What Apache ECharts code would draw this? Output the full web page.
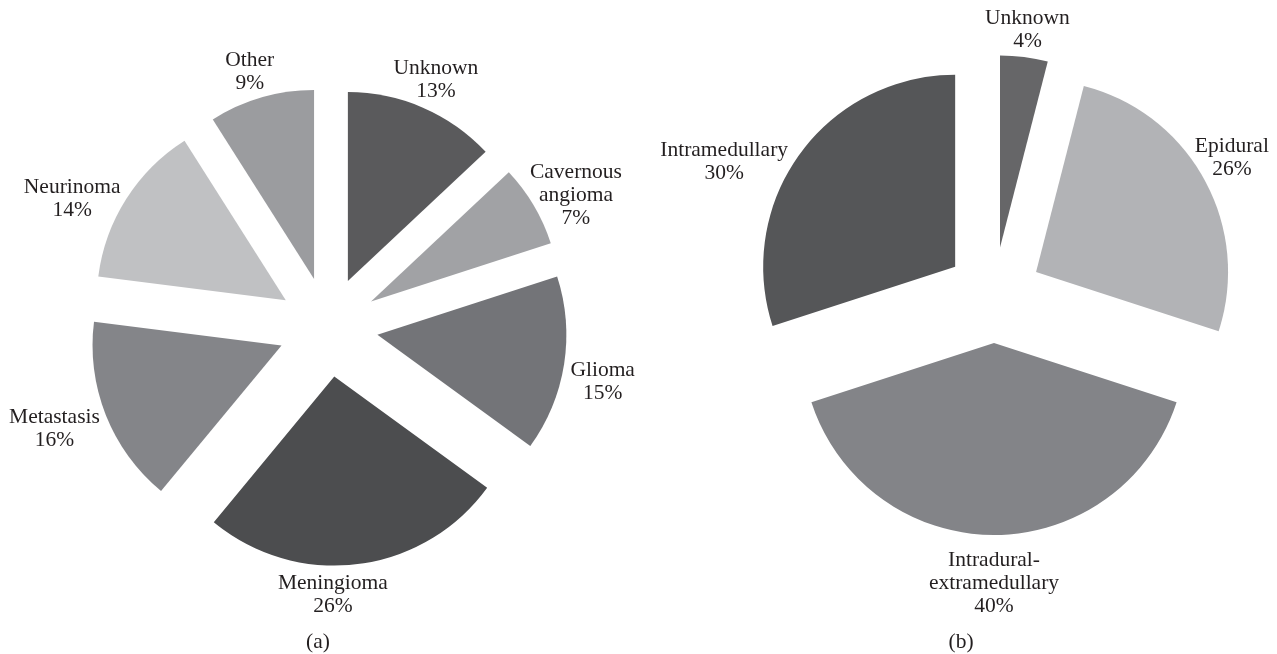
<!DOCTYPE html>
<html>
<head>
<meta charset="utf-8">
<script src="https://cdn.jsdelivr.net/npm/echarts@6/dist/echarts.min.js"></script>
<style>
html,body{margin:0;padding:0;background:#ffffff;}
#chart{width:1277px;height:654px;}
</style>
</head>
<body>
<div id="chart"></div>
<script>
// ---- Data ----
const leftNames = ['Unknown', 'Cavernous\nangioma', 'Glioma', 'Meningioma', 'Metastasis', 'Neurinoma', 'Other'];
const leftValues = [13, 7, 15, 26, 16, 14, 9];
const rightNames = ['Unknown', 'Epidural', 'Intradural-\nextramedullary', 'Intramedullary'];
const rightValues = [4, 26, 40, 30];
const panelLabels = ['(a)', '(b)'];

// ---- Styles ----
const leftColors = ['#5a5a5c', '#a1a2a5', '#737478', '#4c4d4f', '#848589', '#c0c1c3', '#9b9c9f'];
const rightColors = ['#666668', '#b2b3b6', '#838488', '#555658'];
// label line lengths (used only to place the text, lines are hidden)
const leftLen = [30, 20, 113, 31, 38, 0, 27];
const leftLen2 = [-69, -45, -143, -99, -54, -16, -66];
const rightLen = [27, 44, 48, -14];
const rightLen2 = [-70, -81, -70, 17];

const FONT = '"Liberation Serif", "DejaVu Serif", serif';
const TEXT = '#231f20';

function buildData(names, values, colors, len, len2) {
  return names.map((n, i) => ({
    name: n,
    value: values[i],
    selected: true,
    itemStyle: { color: colors[i] },
    select: { itemStyle: { color: colors[i] } },
    labelLine: { show: false, length: len[i], length2: len2[i] }
  }));
}

const labelOpt = {
  show: true,
  position: 'outside',
  width: 140,
  overflow: 'none',
  distanceToLabelLine: 0,
  formatter: p => p.name.split('\n').concat([p.value + '%']).map(s => '{a|' + s + '}').join('\n'),
  rich: {
    a: { align: 'center', fontSize: 21.5, lineHeight: 23, fontFamily: FONT, color: TEXT }
  }
};

function pieSeries(names, values, colors, len, len2, center, radius, offset) {
  return {
    type: 'pie',
    center: center,
    radius: radius,
    startAngle: 90,
    clockwise: true,
    selectedMode: 'multiple',
    selectedOffset: offset,
    avoidLabelOverlap: false,
    silent: true,
    emphasis: { disabled: true },
    label: labelOpt,
    labelLine: { show: false },
    itemStyle: { borderWidth: 0 },
    data: buildData(names, values, colors, len, len2)
  };
}

const chart = echarts.init(document.getElementById('chart'));
chart.setOption({
  animation: false,
  backgroundColor: '#ffffff',
  series: [
    pieSeries(leftNames, leftValues, leftColors, leftLen, leftLen2, [328, 327], 189, 50),
    pieSeries(rightNames, rightValues, rightColors, rightLen, rightLen2, [994, 295], 192, 48)
  ],
  graphic: [
    { type: 'text', x: 318, y: 642, silent: true,
      style: { text: panelLabels[0], align: 'center', verticalAlign: 'middle', fontSize: 21.5, fontFamily: FONT, fill: TEXT } },
    { type: 'text', x: 961, y: 642, silent: true,
      style: { text: panelLabels[1], align: 'center', verticalAlign: 'middle', fontSize: 21.5, fontFamily: FONT, fill: TEXT } }
  ]
});
</script>
</body>
</html>
